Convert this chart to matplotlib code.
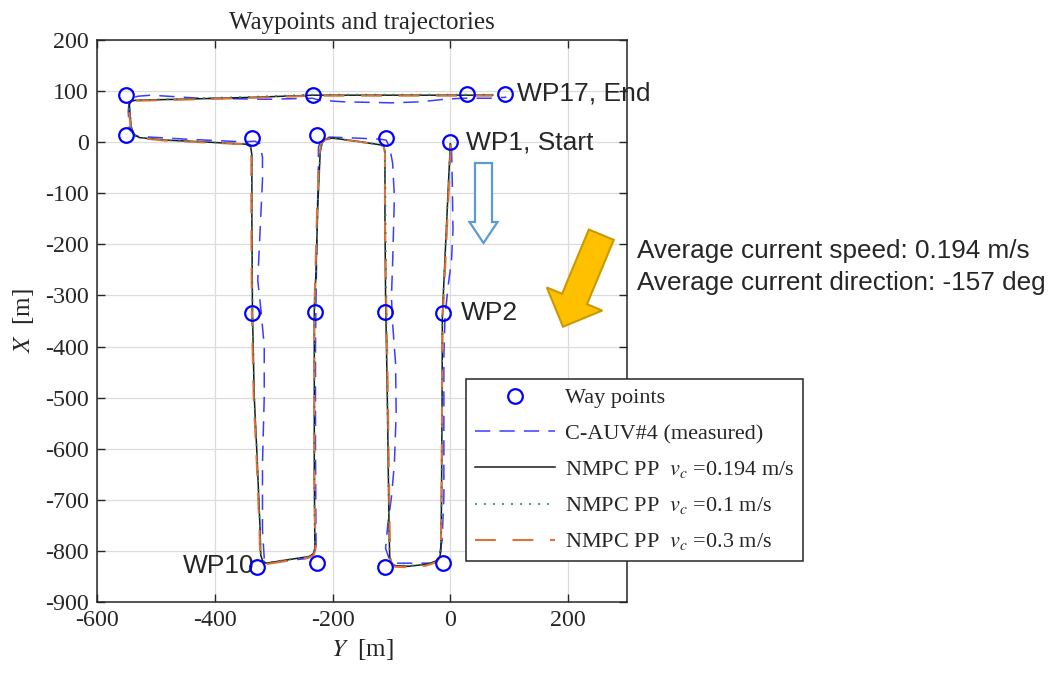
import numpy as np
import matplotlib
matplotlib.use("Agg")
import matplotlib.pyplot as plt
import matplotlib.patches as mpatches
from matplotlib.transforms import IdentityTransform

# ── estilo ─────────────────────────────────────────────
plt.rcParams['font.family'] = 'serif'
plt.rcParams['font.serif'] = ['Liberation Serif', 'DejaVu Serif']
plt.rcParams['mathtext.fontset'] = 'stix'
plt.rcParams['axes.unicode_minus'] = False

W, H, DPI = 1051, 674, 100
SANS = ['Liberation Sans', 'DejaVu Sans']
TXT = '#262626'

# ── waypoints (Y horizontal, X vertical) ────────────────
wp_y = [0, -13, -13, -111, -111, -110, -227, -230, -226, -329, -336, -336,
        -550, -550, -233, 28, 93]
wp_x = [0, -334, -824, -831, -332, 8, 15, -332, -824, -831, -335, 9,
        14, 92, 92, 94, 94]

# ── trayectoria medida C-AUV#4 ─────────────────────────
meas_y = [2, 3, 4.5, 2, -4, -9, -11, -11, -11, -14, -20, -30, -60, -90, -104,
          -110, -106, -100, -95, -92, -93, -98, -100, -98, -95, -98, -103, -109,
          -120, -160, -205, -220, -224, -224, -226, -228, -229, -229, -228,
          -232, -245, -300, -316, -319, -319, -316, -316, -321, -327, -323,
          -319, -319, -324, -332, -345, -358, -450, -511, -535, -545, -547,
          -545, -530, -508, -426, -313, -234, -222, -180, -100, -50, -10, 20,
          38, 69, 95]
meas_x = [-10, -60, -172, -230, -284, -342, -420, -499, -694, -780, -815, -824,
          -824, -824, -815, -795, -746, -695, -629, -531, -433, -355, -303,
          -237, -107, -41, -10, 4, 6, 8, 10, 4, -10, -41, -150, -300, -400,
          -600, -790, -808, -815, -822, -815, -759, -628, -498, -400, -335,
          -270, -172, -74, -29, -2, 2, 1, 1, 6, 10, 12, 25, 60, 85, 90, 92,
          86, 84, 86, 82, 79, 77, 79, 84, 86, 86, 86, 88]

# ── NMPC PP, vc = 0.194 m/s ────────────────────────────
nmpc194_y = [0, -6, -12, -13.5, -14, -15, -16, -18, -24, -40, -70, -95, -101,
             -103, -104, -107, -110, -111, -111, -113, -120, -160, -200, -212,
             -218, -221, -225, -228, -231, -231, -231, -230, -233, -240, -280,
             -313, -319, -322, -323, -328, -333, -336, -337, -337, -339, -347,
             -426, -483, -528, -537, -542, -544, -545, -542, -535, -426, -330,
             -234, -100, 0, 72]
nmpc194_x = [-3, -150, -300, -340, -500, -700, -800, -812, -820, -826, -830,
             -829, -822, -810, -760, -500, -300, -150, -20, -8, -5, 2, 8, 6,
             -2, -20, -120, -250, -332, -500, -650, -795, -806, -811, -818,
             -824, -819, -808, -760, -620, -498, -334, -150, -25, -9, -4, 1, 4,
             9, 15, 30, 56, 74, 80, 82, 85, 88, 92, 92, 92, 92]

# ── NMPC PP, vc = 0.1 m/s ──────────────────────────────
nmpc01_y = [0, -6, -12, -13.5, -14, -15, -16, -18, -24, -40, -70, -95, -101,
            -103, -104, -107, -109, -110, -111, -113, -120, -160, -200, -212,
            -218, -221, -225, -228, -231, -231, -231, -230, -233, -240, -280,
            -313, -319, -322, -323, -328, -333, -336, -337, -337, -339, -347,
            -426, -483, -528, -537, -542, -544, -545, -542, -535, -426, -330,
            -234, -100, 0, 72]
nmpc01_x = [-3, -150, -300, -340, -500, -700, -800, -812, -820, -826, -829,
            -828, -822, -810, -760, -500, -300, -150, -20, -8, -5, 2, 8, 6,
            -2, -20, -120, -250, -332, -500, -650, -795, -806, -811, -818,
            -823, -819, -808, -760, -620, -498, -334, -150, -25, -9, -4, 1, 4,
            9, 15, 30, 56, 74, 80, 82, 86, 89, 93, 93, 93, 93]

# ── NMPC PP, vc = 0.3 m/s ──────────────────────────────
nmpc03_y = [1, -5, -11, -13, -14, -15, -16, -19, -26, -42, -70, -94, -100,
            -102, -103, -106, -109, -111, -111, -113, -121, -160, -200, -213,
            -219, -222, -226, -229, -231, -231, -231, -229, -232, -240, -280,
            -314, -320, -323, -324, -329, -334, -337, -338, -338, -340, -348,
            -426, -483, -528, -538, -543, -545, -546, -543, -535, -426, -330,
            -234, -100, 0, 72]
nmpc03_x = [-4, -150, -300, -340, -500, -700, -802, -815, -823, -829, -832,
            -831, -824, -810, -760, -500, -300, -150, -20, -8, -5, 2, 7, 5,
            -3, -20, -120, -250, -332, -500, -650, -797, -808, -813, -820,
            -826, -821, -808, -760, -620, -498, -334, -150, -25, -9, -4, 0, 3,
            8, 14, 30, 56, 73, 79, 81, 84, 87, 91, 91, 91, 91]

xticks = [-600, -400, -200, 0, 200]
yticks = list(range(-900, 201, 100))

fig = plt.figure(figsize=(W / DPI, H / DPI), dpi=DPI)
ax = fig.add_axes([97 / W, 1 - 602 / H, 530 / W, 562 / H])

ax.plot(wp_y, wp_x, 'o', ms=10.5, mfc='none', mec='#0000FF', mew=1.6,
        label='Way points', zorder=6)
ax.plot(meas_y, meas_x, color='#3c3cff', lw=1.1, dashes=(10, 6),
        label='C-AUV#4 (measured)', zorder=3)
ax.plot(nmpc194_y, nmpc194_x, color='#1a1a1a', lw=1.1,
        label=r'NMPC PP  $v_c$ =0.194 m/s', zorder=4)
ax.plot(nmpc01_y, nmpc01_x, color='#2e8b57', lw=1.3, dashes=(1, 4),
        label=r'NMPC PP  $v_c$ =0.1 m/s', zorder=5)
ax.plot(nmpc03_y, nmpc03_x, color='#E2703A', lw=1.5, dashes=(10, 8),
        label=r'NMPC PP  $v_c$ =0.3 m/s', zorder=4)

ax.set_xlim(-600, 300)
ax.set_ylim(-900, 200)
ax.set_xticks(xticks)
ax.set_yticks(yticks)
ax.grid(True, color='#dcdcdc', lw=0.9)
ax.set_axisbelow(True)
ax.tick_params(direction='in', top=True, right=True, length=6, width=1,
               labelsize=17.3, colors=TXT, pad=6)
for s in ax.spines.values():
    s.set_color(TXT)
    s.set_linewidth(1.1)

ax.set_title('Waypoints and trajectories', fontsize=18, color=TXT, pad=8)
ax.set_xlabel(r'$Y$  [m]', fontsize=18, color=TXT, labelpad=4)
ax.set_ylabel(r'$X$  [m]', fontsize=18, color=TXT, labelpad=6)

leg = fig.legend(loc='upper left', bbox_to_anchor=(466 / W, 1 - 379 / H),
                 fontsize=16, frameon=True, fancybox=False, edgecolor=TXT,
                 framealpha=1, handlelength=3.6, handletextpad=0.45,
                 labelspacing=0.68, borderpad=0.4, borderaxespad=0)
leg.get_frame().set_linewidth(1.1)
for t in leg.get_texts():
    t.set_color(TXT)

# ── etiquetas de waypoints ─────────────────────────────
ax.text(113, 96, 'WP17, End', family=SANS, fontsize=19, color=TXT, va='center')
ax.text(27, 0, 'WP1, Start', family=SANS, fontsize=19, color=TXT, va='center')
ax.text(18, -334, 'WP2', family=SANS, fontsize=19, color=TXT, va='center')
ax.text(-333, -829, 'WP10', family=SANS, fontsize=19, color=TXT, va='center',
        ha='right')

fig.text(637 / W, 1 - 251 / H, 'Average current speed: 0.194 m/s',
         family=SANS, fontsize=18.8, color=TXT, va='center')
fig.text(637 / W, 1 - 283 / H, 'Average current direction: -157 deg',
         family=SANS, fontsize=18.8, color=TXT, va='center')

# ── flechas: rumbo del vehículo y corriente ─────────────
def pix(x, y):
    return x, H - y

x0, y0 = pix(483.5, 163)
x1, y1 = pix(483.5, 243)
fig.add_artist(mpatches.FancyArrow(x0, y0, x1 - x0, y1 - y0, width=17,
                                   head_width=28, head_length=21,
                                   length_includes_head=True,
                                   transform=IdentityTransform(),
                                   fc='white', ec='#5B9BD5', lw=1.6))

x0, y0 = pix(601.3, 234.7)
x1, y1 = pix(563, 326.7)
fig.add_artist(mpatches.FancyArrow(x0, y0, x1 - x0, y1 - y0, width=27,
                                   head_width=60, head_length=30,
                                   length_includes_head=True,
                                   transform=IdentityTransform(),
                                   fc='#FFC000', ec='#C99A00', lw=1.5))

fig.savefig('out.png', dpi=DPI)
